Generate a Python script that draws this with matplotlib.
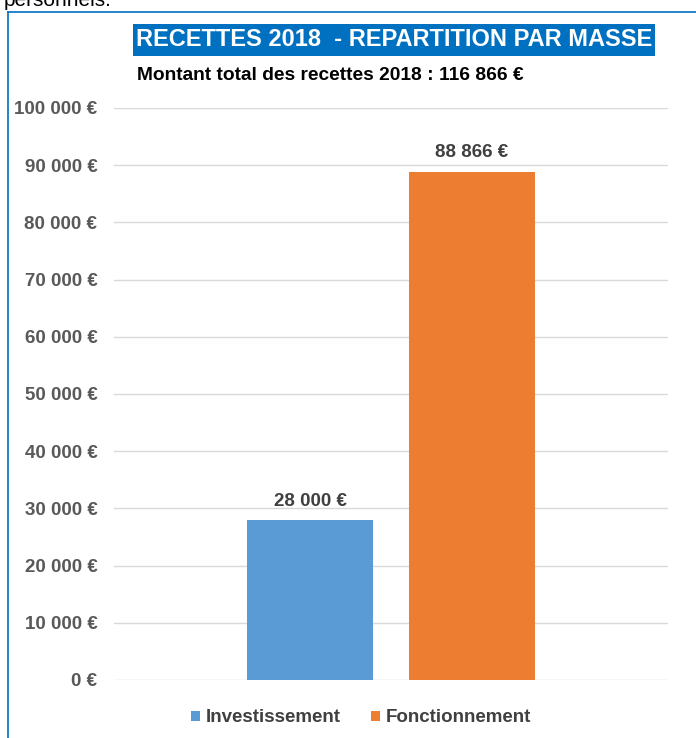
import matplotlib
matplotlib.use("Agg")
import matplotlib.pyplot as plt
from matplotlib.patches import Rectangle
from matplotlib.lines import Line2D
from matplotlib import font_manager

series = ["Investissement", "Fonctionnement"]
values = [28000, 88866]
value_labels = ["28 000 €", "88 866 €"]
colors = ["#5B9BD5", "#ED7D31"]
yticks = [0, 10000, 20000, 30000, 40000, 50000, 60000, 70000, 80000, 90000, 100000]
ytick_labels = ["0 €", "10 000 €", "20 000 €", "30 000 €", "40 000 €", "50 000 €",
                "60 000 €", "70 000 €", "80 000 €", "90 000 €", "100 000 €"]
title = "RECETTES 2018  - REPARTITION PAR MASSE"
subtitle = "Montant total des recettes 2018 : 116 866 €"

plt.rcParams['font.family'] = ['Liberation Sans', 'DejaVu Sans']

names = {f.name for f in font_manager.fontManager.ttflist}
narrow = 'Liberation Sans Narrow' in names

W, H = 696, 738
fig = plt.figure(figsize=(W / 100, H / 100), dpi=100)
fig.patch.set_facecolor("white")

ax = fig.add_axes([114 / W, 1 - 680 / H, 554 / W, (680 - 108) / H])
width = 0.2274
offsets = [-0.1462, 0.1462]
for i in range(len(series)):
    ax.bar(offsets[i], values[i], width=width, color=colors[i], zorder=3)
    ax.text(offsets[i], values[i] + 1800, value_labels[i], ha="center", va="bottom",
            fontsize=13.5, fontweight="bold", color="#404040")
ax.set_xlim(-0.5, 0.5)
ax.set_ylim(0, 100000)
ax.set_yticks(yticks)
ax.set_yticklabels(ytick_labels, fontsize=13.5, fontweight="bold", color="#595959")
ax.tick_params(axis="y", length=0, pad=12)
ax.set_xticks([])
ax.grid(axis="y", color="#D9D9D9", linewidth=1, zorder=0)
for s in ax.spines.values():
    s.set_visible(False)

# Title box
fig.patches.append(Rectangle((133 / W, 1 - 56 / H), (655 - 133) / W, 32 / H,
                             transform=fig.transFigure, facecolor="#0070C0",
                             edgecolor="none"))
if narrow:
    fig.text(394 / W, 1 - 40 / H, title, ha="center", va="center", fontsize=15.5,
             fontweight="bold", color="white", family=['Liberation Sans Narrow', 'DejaVu Sans'])
    fig.text(137 / W, 1 - 76 / H, subtitle, ha="left", va="center", fontsize=13.5,
             fontweight="bold", color="black", family=['Liberation Sans Narrow', 'DejaVu Sans'])
else:
    fig.text(394 / W, 1 - 40 / H, title, ha="center", va="center", fontsize=17,
             fontweight="bold", color="white")
    fig.text(137 / W, 1 - 76 / H, subtitle, ha="left", va="center", fontsize=13.8,
             fontweight="bold", color="black")

# Frame lines
fig.add_artist(Line2D([8 / W, 8 / W], [0, 1 - 12 / H], transform=fig.transFigure,
                      color="#0070C0", linewidth=1.2))
fig.add_artist(Line2D([8 / W, 1], [1 - 12 / H, 1 - 12 / H], transform=fig.transFigure,
                      color="#0070C0", linewidth=1.2))
fig.text(4 / W, 1 - 1 / H, "personnels.", ha="left", va="center", fontsize=15, color="black")

# Legend
handles = [Rectangle((0, 0), 1, 1, facecolor=c) for c in colors]
leg = fig.legend(handles, series, loc="center", bbox_to_anchor=(361 / W, 1 - 718 / H),
                 ncol=2, frameon=False, handlelength=0.5, handleheight=0.5,
                 handletextpad=0.3, columnspacing=1.6,
                 prop={"size": 13.5, "weight": "bold"})
for t in leg.get_texts():
    t.set_color("#404040")

fig.savefig("out.png", dpi=100)
